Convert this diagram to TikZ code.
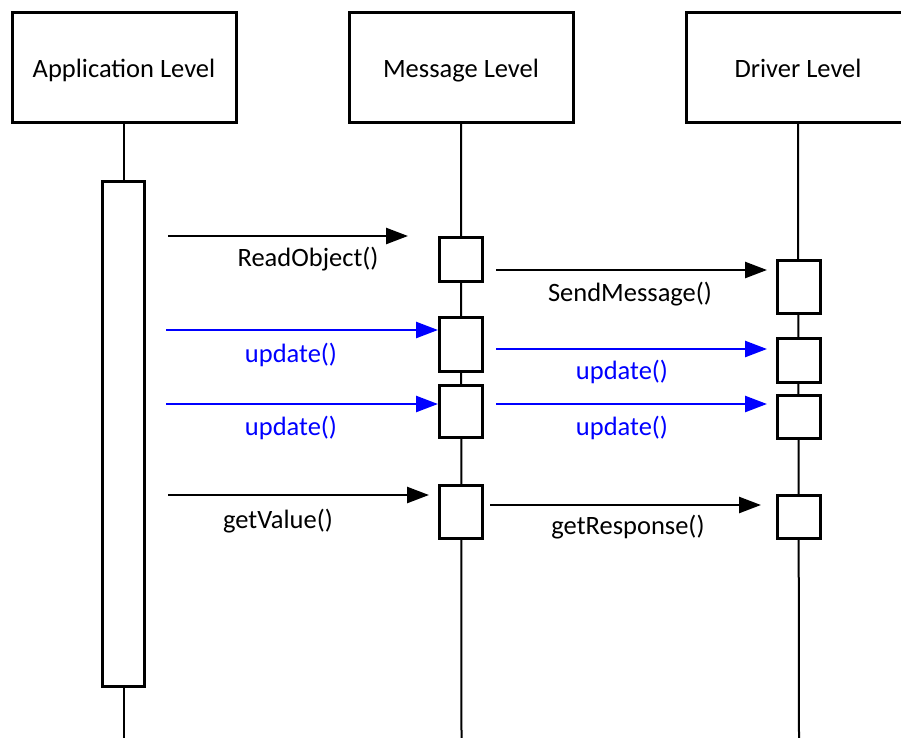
\documentclass[tikz,border=0pt]{standalone}
\usepackage{fontspec}
\setmainfont{Carlito}
\usetikzlibrary{arrows.meta}
\definecolor{msgblue}{RGB}{0,0,255}
\begin{document}
\begin{tikzpicture}[x=1pt,y=-1pt,
  every node/.style={font=\fontsize{26.5}{32}\selectfont},
  header/.style={draw, line width=3pt, fill=white, minimum width=224pt, minimum height=110pt, inner sep=0pt, text height=22pt, text depth=2pt},
  actbox/.style={draw, line width=3pt, fill=white, inner sep=0pt},
  lifeline/.style={line width=2pt},
  msgarrow/.style={line width=2.5pt, -{Triangle[length=22pt,width=16pt]}},
  lbl/.style={inner sep=0pt},
  upd/.style={msgblue}
]
\useasboundingbox (0,0) rectangle (901,737);
\fill[white] (0,0) rectangle (901,737);
% headers
\node[header] (app) at (124,67) {Application Level};
\node[header] (msg) at (461,67) {Message Level};
\node[header] (drv) at (798,67) {Driver Level};
% lifeline ends
\coordinate (append) at (124,740);
\coordinate (msgend) at (461.5,740);
\coordinate (drvend) at (799,740);
\draw[lifeline] (app.south) -- (append);
\draw[lifeline] (msg.south) -- (msgend);
\draw[lifeline] (drv.south) -- (drvend);
% activation on application
\node[actbox, minimum width=42pt, minimum height=505pt] (appact) at (123.5,433.5) {};
% message level boxes
\node[actbox, minimum width=43pt, minimum height=44pt] (m1) at (461,259) {};
\node[actbox, minimum width=43pt, minimum height=54pt] (m2) at (461,344) {};
\node[actbox, minimum width=43pt, minimum height=52pt] (m3) at (461,411) {};
\node[actbox, minimum width=43pt, minimum height=53pt] (m4) at (461,512) {};
% driver level boxes
\node[actbox, minimum width=43pt, minimum height=53pt] (d1) at (799,287) {};
\node[actbox, minimum width=43pt, minimum height=44pt] (d2) at (799,360) {};
\node[actbox, minimum width=43pt, minimum height=43pt] (d3) at (799,416.5) {};
\node[actbox, minimum width=43pt, minimum height=43pt] (d4) at (799,516.5) {};
% arrow endpoints
\coordinate (a1s) at (168,236);  \coordinate (a1e) at (408,236);
\coordinate (a2s) at (496,270);  \coordinate (a2e) at (767,270);
\coordinate (a3s) at (166,330);  \coordinate (a3e) at (438,330);
\coordinate (a4s) at (496,349);  \coordinate (a4e) at (767,349);
\coordinate (a5s) at (166,404);  \coordinate (a5e) at (438,404);
\coordinate (a6s) at (496,404);  \coordinate (a6e) at (767,404);
\coordinate (a7s) at (168,495);  \coordinate (a7e) at (429,495);
\coordinate (a8s) at (490,505);  \coordinate (a8e) at (761,505);
\draw[msgarrow] (a1s) -- (a1e);
\draw[msgarrow] (a2s) -- (a2e);
\draw[msgarrow, msgblue] (a3s) -- (a3e);
\draw[msgarrow, msgblue] (a4s) -- (a4e);
\draw[msgarrow, msgblue] (a5s) -- (a5e);
\draw[msgarrow, msgblue] (a6s) -- (a6e);
\draw[msgarrow] (a7s) -- (a7e);
\draw[msgarrow] (a8s) -- (a8e);
% labels
\node[lbl] (l1) at (308,259) {ReadObject()};
\node[lbl] (l2) at (630,294) {SendMessage()};
\node[lbl, upd] (l3) at (291,355) {update()};
\node[lbl, upd] (l4) at (622,372) {update()};
\node[lbl, upd] (l5) at (291,428) {update()};
\node[lbl, upd] (l6) at (622,428) {update()};
\node[lbl] (l7) at (278,521) {getValue()};
\node[lbl] (l8) at (628,527) {getResponse()};
\end{tikzpicture}
\end{document}
